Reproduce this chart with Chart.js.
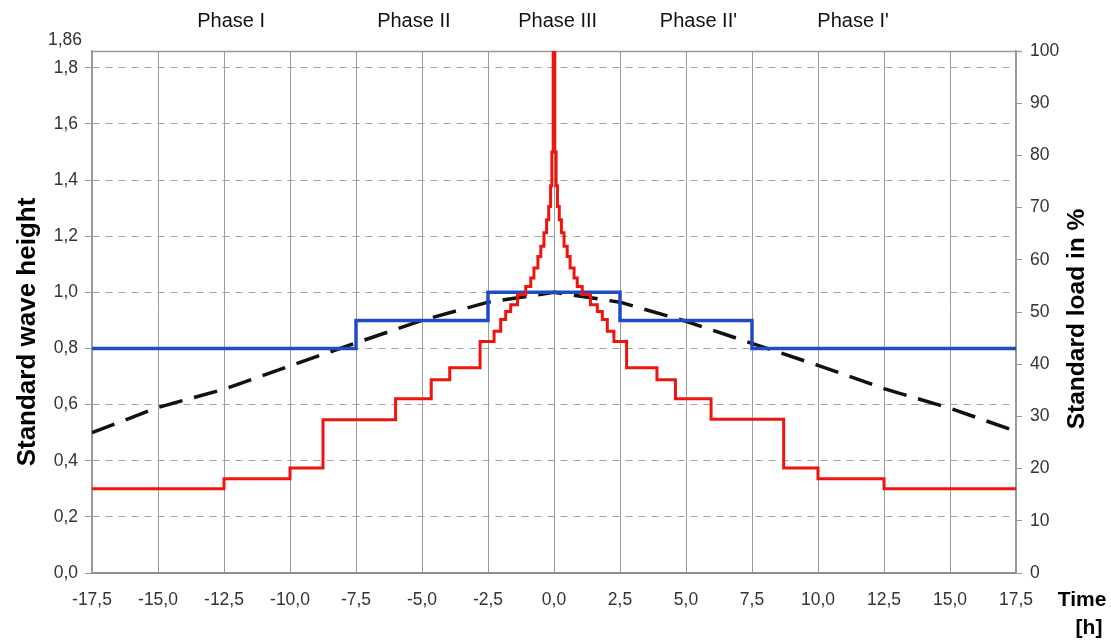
<!DOCTYPE html>
<html>
<head>
<meta charset="utf-8">
<script src="https://cdn.jsdelivr.net/npm/chart.js@4/dist/chart.umd.min.js"></script>
<style>
html,body{margin:0;padding:0;background:#fff;}
canvas{display:block;}
</style>
</head>
<body>
<canvas id="c" width="1111" height="644"></canvas>
<script>
// ---- data ----
const xTicks = [-17.5,-15,-12.5,-10,-7.5,-5,-2.5,0,2.5,5,7.5,10,12.5,15,17.5];
const yLeftTicks = [0,0.2,0.4,0.6,0.8,1.0,1.2,1.4,1.6,1.8];
const yLeftTop = 1.86;
const yRightTicks = [0,10,20,30,40,50,60,70,80,90,100];

const phaseLabels = ['Phase I','Phase II','Phase III',"Phase II'","Phase I'"];
const phaseX = [-12.23,-5.31,0.14,5.47,11.33];

// red stepped series: level starts at each x
const redX = [-17.5,-12.5,-10,-8.75,-6,-4.65,-3.95,-2.8,-2.27,-2.02,-1.83,-1.64,-1.38,-1.07,-0.88,-0.76,-0.61,-0.5,-0.38,-0.28,-0.2,-0.13,-0.08,-0.03,
              0.03,0.08,0.13,0.2,0.28,0.38,0.5,0.61,0.76,0.88,1.07,1.38,1.64,1.83,2.02,2.27,2.75,3.9,4.6,5.95,8.7,10,12.5,17.5];
const redY = [0.30,0.336,0.374,0.546,0.621,0.689,0.731,0.825,0.861,0.903,0.932,0.956,0.992,1.021,1.051,1.087,1.128,1.164,1.212,1.259,1.306,1.38,1.5,1.86,
              1.5,1.38,1.306,1.259,1.212,1.164,1.128,1.087,1.051,1.021,0.992,0.956,0.932,0.903,0.861,0.825,0.731,0.689,0.621,0.548,0.374,0.336,0.30,0.30];

// blue stepped series
const blueX = [-17.5,-7.5,-2.5,2.5,7.5,17.5];
const blueY = [0.8,0.9,1.0,0.9,0.8,0.8];

// black dashed series
const blackX = [-17.5,-15,-12.5,-10,-7.5,-5,-2.5,0,2.5,5,7.5,10,12.5,15,17.5];
const blackY = [0.50,0.59,0.655,0.738,0.82,0.9,0.965,1.0,0.965,0.897,0.818,0.74,0.657,0.587,0.505];

// ---- helpers ----
const pts = (xs, ys) => xs.map((x, i) => ({x: x, y: ys[i]}));
const fmt1 = v => Number(v).toFixed(1).replace('.', ',');
const FONT = "'Liberation Sans', Arial, sans-serif";
const tickFont = {family: FONT, size: 17.5};
const tickColor = '#333';

const overlay = {
  id: 'overlay',
  beforeDatasetsDraw(chart) {
    const {ctx, chartArea: a} = chart;
    ctx.save();
    ctx.strokeStyle = '#999';
    ctx.lineWidth = 1.5;
    ctx.beginPath();
    ctx.moveTo(a.left, a.top + 0.5);
    ctx.lineTo(a.right + 6, a.top + 0.5);
    ctx.stroke();
    ctx.restore();
  },
  afterDraw(chart) {
    const {ctx} = chart;
    const xs = chart.scales.x;
    ctx.save();
    // phase labels
    ctx.fillStyle = '#111';
    ctx.font = '20px ' + FONT;
    ctx.textAlign = 'center';
    ctx.textBaseline = 'middle';
    phaseLabels.forEach((t, i) => ctx.fillText(t, xs.getPixelForValue(phaseX[i]), 21));
    // top left value
    ctx.fillStyle = tickColor;
    ctx.font = '17.5px ' + FONT;
    ctx.textAlign = 'right';
    ctx.fillText(yLeftTop.toFixed(2).replace('.', ','), 82, 40);
    // axis titles
    ctx.fillStyle = '#000';
    ctx.font = 'bold 26px ' + FONT;
    ctx.textAlign = 'center';
    ctx.save();
    ctx.translate(28, 332);
    ctx.rotate(-Math.PI / 2);
    ctx.fillText('Standard wave height', 0, 0);
    ctx.restore();
    ctx.font = 'bold 24.5px ' + FONT;
    ctx.save();
    ctx.translate(1077, 319);
    ctx.rotate(-Math.PI / 2);
    ctx.fillText('Standard load in %', 0, 0);
    ctx.restore();
    ctx.font = 'bold 21px ' + FONT;
    ctx.fillText('Time', 1082, 600);
    ctx.fillText('[h]', 1089, 628);
    ctx.restore();
  }
};

new Chart(document.getElementById('c'), {
  type: 'line',
  data: {
    datasets: [
      {data: pts(redX, redY), borderColor: '#ee1410', borderWidth: 3, stepped: true, pointRadius: 0, fill: false, yAxisID: 'y'},
      {data: pts(blueX, blueY), borderColor: '#1f4cc6', borderWidth: 3.5, stepped: true, pointRadius: 0, fill: false, yAxisID: 'y'},
      {data: pts(blackX, blackY), borderColor: '#111', borderWidth: 3.5, borderDash: [24, 12], pointRadius: 0, tension: 0, fill: false, yAxisID: 'y'}
    ]
  },
  options: {
    responsive: false,
    animation: false,
    layout: {padding: {top: 51, left: 0, right: 0, bottom: 0}},
    plugins: {legend: {display: false}, tooltip: {enabled: false}},
    scales: {
      x: {
        type: 'linear', min: -17.5, max: 17.5,
        afterBuildTicks: s => { s.ticks = xTicks.map(v => ({value: v})); },
        afterFit: s => { s.height = 71; },
        ticks: {callback: v => fmt1(v), color: tickColor, font: tickFont, padding: 17, maxRotation: 0, autoSkip: false},
        grid: {color: '#9c9c9c', lineWidth: 1, drawTicks: false},
        border: {color: '#8f8f8f', width: 2}
      },
      y: {
        position: 'left', min: 0, max: yLeftTop,
        afterBuildTicks: s => { s.ticks = yLeftTicks.map(v => ({value: v})); },
        afterFit: s => { s.width = 92; },
        ticks: {callback: v => fmt1(v), color: tickColor, font: tickFont, padding: 7},
        grid: {color: '#a0a0a0', lineWidth: 1, tickLength: 7, tickColor: '#999', tickBorderDash: [0, 0]},
        border: {color: '#999', width: 1.5, dash: [7, 6]}
      },
      y2: {
        position: 'right', min: 0, max: 100,
        afterBuildTicks: s => { s.ticks = yRightTicks.map(v => ({value: v})); },
        afterFit: s => { s.width = 95; },
        ticks: {callback: v => String(v), color: tickColor, font: tickFont, padding: 8},
        grid: {drawOnChartArea: false, tickLength: 6, tickColor: '#999'},
        border: {color: '#999', width: 1.5}
      }
    }
  },
  plugins: [overlay]
});
</script>
</body>
</html>
